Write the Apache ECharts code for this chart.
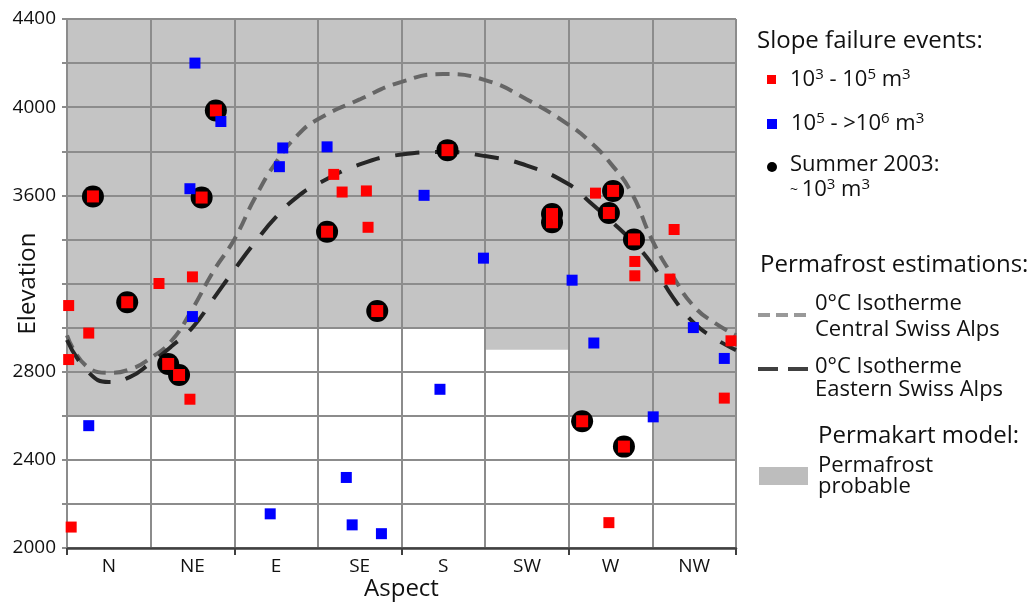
<!DOCTYPE html>
<html>
<head>
<meta charset="utf-8">
<script src="https://cdn.jsdelivr.net/npm/echarts@6/dist/echarts.min.js"></script>
<style>
  html, body { margin: 0; padding: 0; background: #fff; }
  #chart { width: 1029px; height: 603px; }
</style>
</head>
<body>
<div id="chart"></div>
<script>
// aspect sectors, x runs 0..8 (one unit per sector)
var aspects = ['N', 'NE', 'E', 'SE', 'S', 'SW', 'W', 'NW'];

// elevation labels that are printed (3200 is left out for the axis title)
var elevLabels = [2000, 2400, 2800, 3600, 4000, 4400];

// Permakart model: lower limit of "permafrost probable" per sector (up to 4400)
var permafrostBase = [2600, 2600, 3000, 3000, 3000, 2900, 2600, 2400];

// slope failure events 10^3 - 10^5 m3
var smallEvents = [
  [0.02, 3100], [0.26, 2975], [0.02, 2855], [0.05, 2095],
  [1.10, 3200], [1.50, 3230], [1.47, 2675],
  [3.19, 3695], [3.29, 3615], [3.58, 3620], [3.60, 3455],
  [6.32, 3610], [6.79, 3300], [6.79, 3235], [6.48, 2115],
  [7.26, 3445], [7.21, 3220], [7.94, 2940], [7.86, 2680]
];

// slope failure events 10^5 - >10^6 m3
var largeEvents = [
  [0.26, 2555], [1.53, 4200], [1.84, 3935], [1.47, 3630], [1.50, 3050],
  [2.58, 3815], [2.54, 3730], [2.43, 2155],
  [3.11, 3820], [3.34, 2320], [3.41, 2105], [3.76, 2065],
  [4.27, 3600], [4.46, 2720], [4.98, 3315],
  [6.04, 3215], [6.30, 2930], [7.01, 2595], [7.49, 3000], [7.86, 2860]
];

// summer 2003 events (~10^3 m3)
var summer2003 = [
  [0.31, 3595], [0.72, 3115], [1.21, 2835], [1.34, 2785], [1.61, 3590], [1.78, 3985],
  [3.11, 3435], [3.71, 3075], [4.55, 3805], [5.80, 3515], [5.80, 3478],
  [6.53, 3620], [6.48, 3520], [6.78, 3400], [6.16, 2575], [6.66, 2460]
];

// 0°C isotherm, Central Swiss Alps
var isoCentral = [
  [0, 2965], [0.25, 2820], [0.5, 2795], [0.75, 2810], [1, 2862], [1.25, 2940],
  [1.5, 3085], [1.75, 3255], [2, 3400], [2.25, 3590], [2.5, 3750], [2.75, 3870],
  [3, 3945], [3.5, 4035], [4, 4115], [4.5, 4150], [5, 4123], [5.5, 4035],
  [6, 3920], [6.25, 3845], [6.5, 3745], [6.75, 3612], [7, 3395], [7.25, 3230],
  [7.5, 3095], [7.75, 3020], [8, 2965]
];

// 0°C isotherm, Eastern Swiss Alps
var isoEastern = [
  [0, 2944], [0.25, 2800], [0.5, 2753], [0.75, 2775], [1, 2840], [1.25, 2915],
  [1.5, 3000], [1.75, 3130], [2, 3262], [2.25, 3388], [2.5, 3502], [2.75, 3592],
  [3, 3652], [3.5, 3740], [4, 3785], [4.5, 3797], [5, 3778], [5.5, 3735],
  [6, 3650], [6.25, 3570], [6.5, 3485], [6.75, 3395], [7, 3285], [7.25, 3135],
  [7.5, 3020], [7.75, 2950], [8, 2898]
];

var FONT = 'Open Sans';
var gridColor = '#8c8c8c';

function legendText(x, y, text, size) {
  return {
    type: 'text',
    x: x,
    y: y,
    silent: true,
    style: {
      text: text,
      fill: '#111',
      fontFamily: FONT,
      fontSize: size || 22,
      align: 'left',
      textAlign: 'left',
      verticalAlign: 'middle',
      textVerticalAlign: 'middle',
      rich: {
        sup: { fontSize: 15, fontFamily: FONT, fill: '#111', verticalAlign: 'top', padding: [0, 0, 10, 0] },
        base: { fontSize: size || 22, fontFamily: FONT, fill: '#111' },
        tl: { fontSize: 14, fontFamily: FONT, fill: '#111' }
      }
    }
  };
}

var option = {
  animation: false,
  backgroundColor: '#fff',
  grid: { left: 67, right: 293, top: 19, bottom: 55, containLabel: false, outerBoundsMode: 'none' },
  xAxis: [
    {
      type: 'value',
      min: 0,
      max: 8,
      interval: 1,
      z: 1,
      axisLine: { show: true, onZero: false, lineStyle: { color: '#404040', width: 2.5 } },
      axisTick: { show: false },
      axisLabel: { show: false },
      splitLine: { show: true, lineStyle: { color: gridColor, width: 2 } }
    },
    {
      type: 'value',
      min: 0,
      max: 8,
      interval: 2,
      position: 'bottom',
      z: 1,
      axisLine: { show: false },
      axisTick: { show: true, length: 7, lineStyle: { color: '#404040', width: 2 } },
      axisLabel: { show: false },
      splitLine: { show: false }
    },
    {
      type: 'category',
      data: aspects,
      boundaryGap: true,
      position: 'bottom',
      z: 1,
      axisLine: { show: false },
      axisTick: { show: false },
      splitLine: { show: false },
      axisLabel: { margin: 9, color: '#111', fontSize: 19, fontFamily: FONT },
      name: 'Aspect',
      nameLocation: 'middle',
      nameGap: 29,
      nameMoveOverlap: false,
      nameTextStyle: { color: '#111', fontSize: 24, fontFamily: FONT }
    }
  ],
  yAxis: {
    type: 'value',
    min: 2000,
    max: 4400,
    interval: 200,
    z: 1,
    axisLine: { show: true, lineStyle: { color: gridColor, width: 2 } },
    axisTick: { show: true, length: 5, lineStyle: { color: gridColor, width: 2 } },
    splitLine: { show: true, lineStyle: { color: gridColor, width: 2 } },
    axisLabel: {
      margin: 11,
      color: '#111',
      fontSize: 19,
      fontFamily: FONT,
      formatter: function (v) {
        return elevLabels.indexOf(v) >= 0 ? String(v) : '';
      }
    },
    name: 'Elevation',
    nameLocation: 'middle',
    nameRotate: 90,
    nameGap: 27,
    nameMoveOverlap: false,
    nameTextStyle: { color: '#111', fontSize: 24, fontFamily: FONT }
  },
  series: [
    {
      // Permakart model shading
      type: 'line',
      data: [],
      silent: true,
      z: 0,
      markArea: {
        silent: true,
        z: 0,
        itemStyle: { color: '#c4c4c4', borderWidth: 0 },
        label: { show: false },
        data: permafrostBase.map(function (b, i) {
          return [{ coord: [i, b] }, { coord: [i + 1, 4400] }];
        })
      }
    },
    {
      type: 'line',
      data: isoCentral,
      smooth: 0.5,
      symbol: 'none',
      silent: true,
      z: 3,
      lineStyle: { color: '#666', width: 4, type: [14, 8], cap: 'butt' }
    },
    {
      type: 'line',
      data: isoEastern,
      smooth: 0.5,
      symbol: 'none',
      silent: true,
      z: 3,
      lineStyle: { color: '#262626', width: 4, type: [24, 16], cap: 'butt' }
    },
    {
      type: 'scatter',
      data: summer2003,
      symbol: 'circle',
      symbolSize: 22,
      silent: true,
      z: 4,
      itemStyle: { color: '#000', opacity: 1 }
    },
    {
      type: 'scatter',
      data: smallEvents,
      symbol: 'rect',
      symbolSize: 11,
      silent: true,
      z: 5,
      itemStyle: { color: '#ff0000', opacity: 1 }
    },
    {
      type: 'scatter',
      data: summer2003,
      symbol: 'rect',
      symbolSize: 12,
      silent: true,
      z: 5,
      itemStyle: { color: '#ff0000', opacity: 1 }
    },
    {
      type: 'scatter',
      data: largeEvents,
      symbol: 'rect',
      symbolSize: 11,
      silent: true,
      z: 6,
      itemStyle: { color: '#0000ff', opacity: 1 }
    }
  ],
  graphic: [
    legendText(757, 41, 'Slope failure events:', 24),
    { type: 'rect', shape: { x: 767, y: 75, width: 9, height: 9 }, style: { fill: '#ff0000' }, silent: true },
    legendText(790, 80, '{base|10}{sup|3}{base| - 10}{sup|5}{base| m}{sup|3}'),
    { type: 'rect', shape: { x: 767, y: 119, width: 10, height: 10 }, style: { fill: '#0000ff' }, silent: true },
    legendText(791, 124, '{base|10}{sup|5}{base| - >10}{sup|6}{base| m}{sup|3}'),
    { type: 'circle', shape: { cx: 772, cy: 167, r: 5 }, style: { fill: '#000' }, silent: true },
    legendText(790, 165, 'Summer 2003:'),
    legendText(790, 190, '{tl|~ }{base|10}{sup|3}{base| m}{sup|3}'),
    legendText(760, 265, 'Permafrost estimations:', 24),
    {
      type: 'line',
      shape: { x1: 758, y1: 315, x2: 806, y2: 315 },
      style: { stroke: '#999', lineWidth: 4, lineDash: [12, 6] },
      silent: true
    },
    legendText(815, 304, '0°C Isotherme'),
    legendText(815, 330, 'Central Swiss Alps'),
    {
      type: 'line',
      shape: { x1: 758, y1: 369, x2: 808, y2: 369 },
      style: { stroke: '#404040', lineWidth: 4, lineDash: [20, 10] },
      silent: true
    },
    legendText(815, 367, '0°C Isotherme'),
    legendText(815, 390, 'Eastern Swiss Alps'),
    legendText(818, 436, 'Permakart model:', 24),
    { type: 'rect', shape: { x: 759, y: 467, width: 49, height: 18 }, style: { fill: '#bdbdbd' }, silent: true },
    legendText(818, 466, 'Permafrost'),
    legendText(818, 487, 'probable')
  ]
};

var chart = echarts.init(document.getElementById('chart'));
chart.setOption(option);
</script>
</body>
</html>
